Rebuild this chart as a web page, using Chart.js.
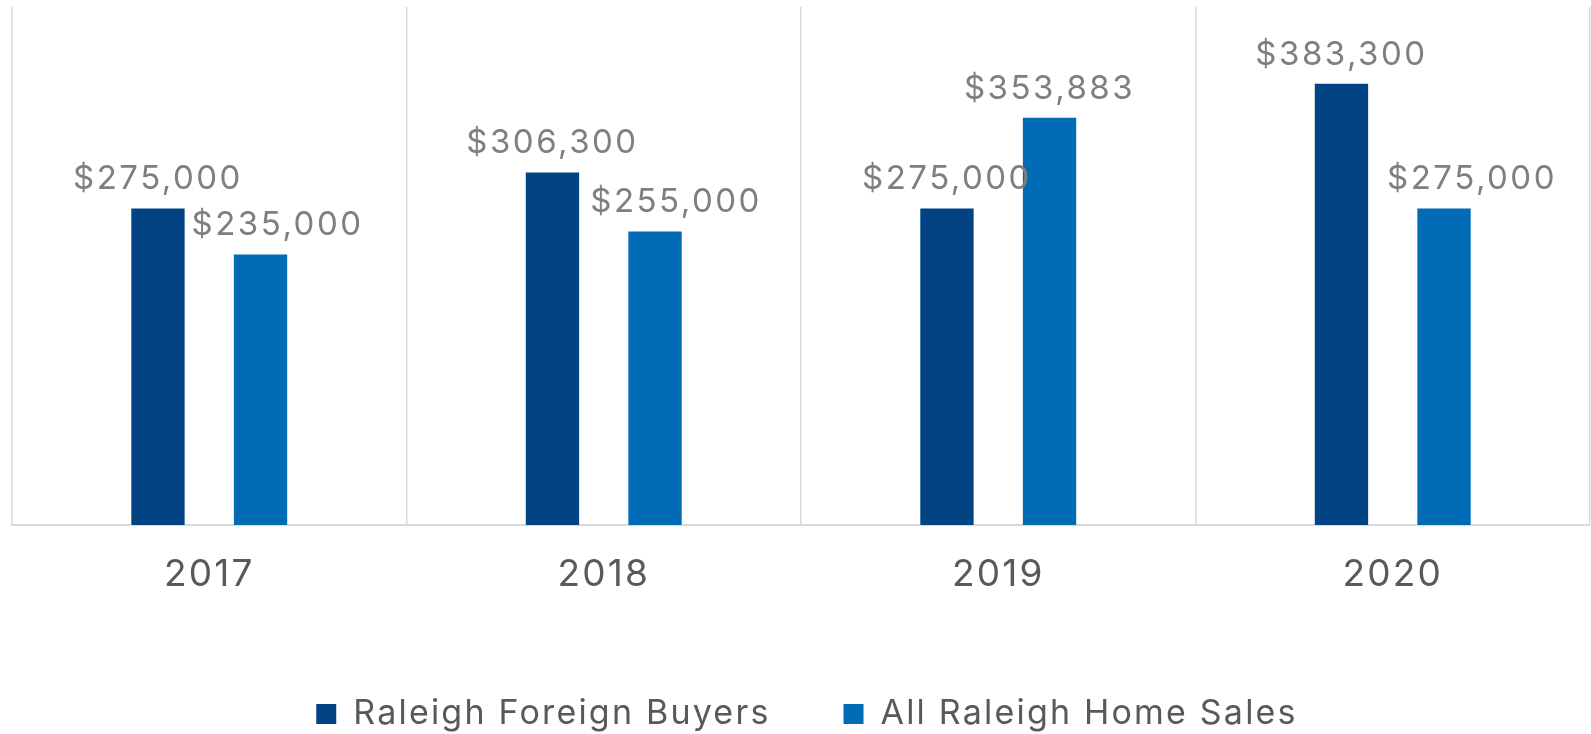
<!DOCTYPE html>
<html>
<head>
<meta charset="utf-8">
<title>Raleigh median sale price</title>
<script src="https://cdn.jsdelivr.net/npm/chart.js@4/dist/chart.umd.min.js"></script>
<style>
  html, body { margin: 0; padding: 0; background: #fff; }
  canvas { display: block; }
</style>
</head>
<body>
<canvas id="myChart" width="1591" height="734"></canvas>
<script>
// DATA
var years = ['2017', '2018', '2019', '2020'];
var foreignBuyers = [275000, 306300, 275000, 383300];
var allHomeSales = [235000, 255000, 353883, 275000];
var seriesNames = ['Raleigh Foreign Buyers', 'All Raleigh Home Sales'];
var yMax = 450000;

var FONT = 'Inter';

// text spacing for ticks + legend (chart.js has no option for it)
var spacing = {
    id: 'spacing',
    beforeUpdate: function(chart) { chart.ctx.letterSpacing = '2.2px'; },
    beforeDraw: function(chart) { chart.ctx.letterSpacing = '2.2px'; },
    afterLayout: function(chart) {
        // legend sits a little right of centre in the original
        chart.legend.left += 6;
        chart.legend.right += 6;
    }
};

// value labels above the bars
var valueLabels = {
    id: 'valueLabels',
    afterDatasetsDraw: function(chart, args, opts) {
        var ctx = chart.ctx;
        ctx.save();
        ctx.letterSpacing = opts.spacing;
        ctx.font = opts.size + 'px ' + FONT;
        ctx.fillStyle = opts.color;
        ctx.textAlign = 'center';
        ctx.textBaseline = 'alphabetic';
        chart.data.datasets.forEach(function(ds, i) {
            var meta = chart.getDatasetMeta(i);
            meta.data.forEach(function(bar, j) {
                var shift = opts.shift[i][j];
                ctx.fillText('$' + ds.data[j].toLocaleString('en-US'), bar.x + shift, bar.y - opts.gap);
            });
        });
        ctx.restore();
    }
};

var ctx = document.getElementById('myChart').getContext('2d');

var chart = new Chart(ctx, {
    type: 'bar',
    data: {
        labels: years,
        datasets: [{
            label: seriesNames[0],
            data: foreignBuyers,
            backgroundColor: '#024384',
            borderWidth: 0
        }, {
            label: seriesNames[1],
            data: allHomeSales,
            backgroundColor: '#016bb6',
            borderWidth: 0
        }]
    },
    options: {
        responsive: false,
        animation: false,
        categoryPercentage: 0.52,
        barPercentage: 0.52,
        layout: {
            padding: { left: 12, right: 1, top: 7, bottom: -7 }
        },
        scales: {
            x: {
                grid: { offset: true, color: '#d9d9d9', lineWidth: 1.5, drawTicks: false },
                border: { color: '#d9d9d9', width: 2 },
                ticks: {
                    color: '#595959',
                    font: { family: FONT, size: 37 },
                    padding: 28
                },
                afterFit: function(scale) { scale.height = 99; }
            },
            y: {
                display: false,
                min: 0,
                max: yMax
            }
        },
        plugins: {
            legend: {
                position: 'bottom',
                labels: {
                    boxWidth: 20,
                    boxHeight: 20,
                    padding: 73,
                    color: '#595959',
                    font: { family: FONT, size: 34 }
                }
            },
            tooltip: { enabled: false },
            valueLabels: {
                size: 33,
                spacing: '2.5px',
                color: '#7f7f7f',
                gap: 19,
                shift: [[0, 0, 0, 0], [17, 21, 0, 28]]
            }
        }
    },
    plugins: [spacing, valueLabels]
});
</script>
</body>
</html>
